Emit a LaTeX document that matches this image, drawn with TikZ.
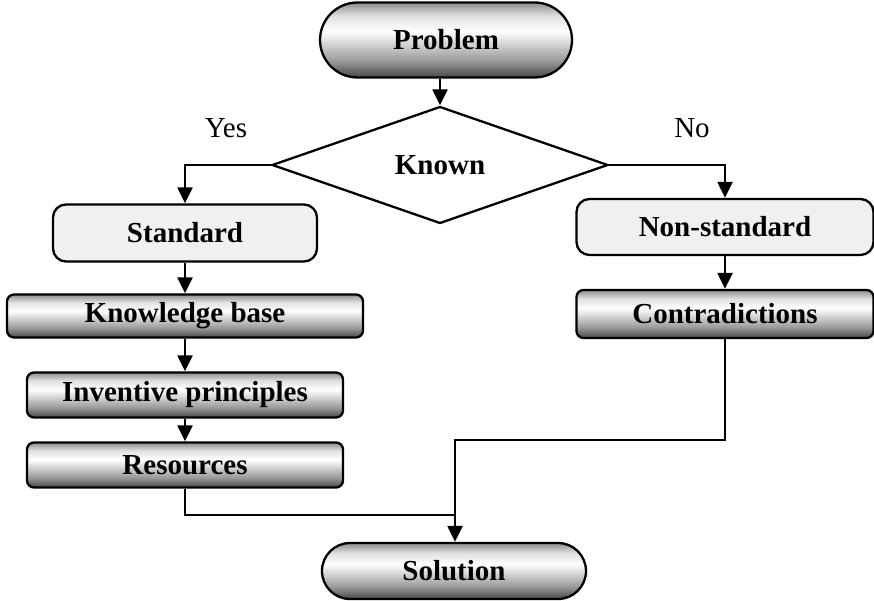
\documentclass[tikz,border=0pt]{standalone}
\usepackage{fontspec}
\setmainfont{Liberation Serif}
\usetikzlibrary{shapes.geometric,shapes.misc,arrows.meta}
\pgfdeclareverticalshading{btnshade}{100bp}{color(0bp)=(black!72); color(25bp)=(black!72); color(36bp)=(black!40); color(56bp)=(white); color(66bp)=(black!12); color(75bp)=(black!45); color(100bp)=(black!45)}
\begin{document}
\begin{tikzpicture}[x=1pt,y=1pt,
  every node/.style={font=\fontsize{29}{33}\selectfont},
  lw/.style={line width=2.3pt},
  shade3d/.style={shading=btnshade},
  pill/.style={rounded rectangle, draw, lw, shade3d, font=\fontsize{29}{33}\selectfont\bfseries, inner sep=0pt},
  gbox/.style={rectangle, rounded corners=7pt, draw, lw, shade3d, font=\fontsize{29}{33}\selectfont\bfseries, inner sep=0pt},
  lbox/.style={rectangle, rounded corners=13pt, draw, lw, fill=black!6, font=\fontsize{29}{33}\selectfont\bfseries, inner sep=0pt},
  arr/.style={lw, -{Triangle[length=16pt,width=15pt]}},
  conn/.style={lw}
]
\useasboundingbox (0,0) rectangle (874,601);
\node[pill, minimum width=252pt, minimum height=75pt] (prob) at (446,561) {Problem};
\node[diamond, draw, lw, minimum width=336pt, minimum height=117pt, inner sep=0pt, font=\fontsize{29}{33}\selectfont\bfseries] (dia) at (440,436) {Known};
\node (yes) at (226,473) {Yes};
\node (no) at (692,473) {No};
\node[lbox, minimum width=264pt, minimum height=57pt] (std) at (185,368) {Standard};
\node[lbox, minimum width=297pt, minimum height=56pt] (nst) at (725,374) {Non-standard};
\node[gbox, minimum width=356pt, minimum height=43pt] (kb) at (185,285) {Knowledge base};
\node[gbox, minimum width=316pt, minimum height=45pt] (inv) at (185,206) {Inventive principles};
\node[gbox, minimum width=316pt, minimum height=45pt] (res) at (185,136) {Resources};
\node[gbox, minimum width=297pt, minimum height=48pt] (con) at (725,287) {Contradictions};
\node[pill, minimum width=264pt, minimum height=56pt] (sol) at (454,30) {Solution};
\coordinate (join) at (455,86);
\coordinate (turn) at (455,161);
\draw[arr] (dia.north |- prob.south) -- (dia.north);
\draw[arr] (dia.west) -| (std.north);
\draw[arr] (dia.east) -| (nst.north);
\draw[arr] (std.south) -- (kb.north);
\draw[arr] (kb.south) -- (inv.north);
\draw[arr] (inv.south) -- (res.north);
\draw[arr] (nst.south) -- (con.north);
\draw[conn] (res.south) |- (join);
\draw[arr] (con.south) |- (turn) -- (turn |- sol.north);
\end{tikzpicture}
\end{document}
